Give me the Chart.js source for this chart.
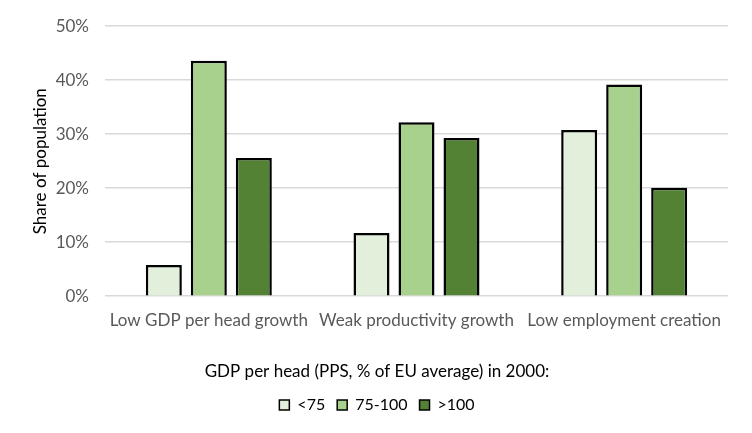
<!DOCTYPE html>
<html>
<head>
<meta charset="utf-8">
<script src="https://cdn.jsdelivr.net/npm/chart.js@4"></script>
<style>
  html, body { margin: 0; padding: 0; background: #fff; }
  #wrap { width: 752px; height: 433px; }
</style>
</head>
<body>
<div id="wrap"><canvas id="myChart"></canvas></div>
<script>
const categories = ['Low GDP per head growth', 'Weak productivity growth', 'Low employment creation'];
const seriesNames = ['<75', '75-100', '>100'];
const below75 = [5.8, 11.7, 30.8];
const from75to100 = [43.6, 32.2, 39.2];
const above100 = [25.6, 29.3, 20.1];
const yTicks = [0, 10, 20, 30, 40, 50];

const colors = ['#E2EFDA', '#A9D18E', '#548235'];
const font = "Lato, 'Open Sans', sans-serif";

const ctx = document.getElementById('myChart').getContext('2d');
new Chart(ctx, {
    type: 'bar',
    data: {
        labels: categories,
        datasets: [below75, from75to100, above100].map((vals, i) => ({
            label: seriesNames[i],
            data: vals,
            backgroundColor: colors[i],
            borderColor: '#000',
            borderWidth: 2.5,
            borderSkipped: 'bottom',
            categoryPercentage: 0.65,
            barPercentage: 0.8
        }))
    },
    options: {
        responsive: true,
        maintainAspectRatio: false,
        animation: false,
        layout: { padding: { left: 26, right: 24, top: 7, bottom: 10 } },
        scales: {
            x: {
                grid: { display: false },
                border: { display: false },
                ticks: {
                    color: '#595959',
                    font: { family: font, size: 17 },
                    padding: 6,
                    maxRotation: 0,
                    minRotation: 0,
                    autoSkip: false
                }
            },
            y: {
                min: 0,
                max: 50,
                afterBuildTicks: axis => { axis.ticks = yTicks.map(v => ({ value: v })); },
                afterFit: axis => { axis.width = 79; },
                grid: { color: '#D9D9D9', lineWidth: 1.5, drawTicks: false },
                border: { display: false },
                ticks: {
                    color: '#595959',
                    font: { family: font, size: 17 },
                    padding: 16,
                    callback: v => v + '%'
                },
                title: {
                    display: true,
                    text: 'Share of population',
                    color: '#000',
                    font: { family: font, size: 17 },
                    padding: { bottom: 2 }
                }
            }
        },
        plugins: {
            legend: {
                position: 'bottom',
                labels: {
                    color: '#000',
                    font: { family: font, size: 16 },
                    boxWidth: 10,
                    boxHeight: 10,
                    padding: 12,
                    generateLabels: chart => chart.data.datasets.map((ds, i) => ({
                        text: ds.label,
                        fillStyle: ds.backgroundColor,
                        strokeStyle: '#000',
                        lineWidth: 1.5,
                        fontColor: '#000',
                        datasetIndex: i
                    }))
                },
                title: {
                    display: true,
                    text: 'GDP per head (PPS, % of EU average) in 2000:',
                    color: '#000',
                    font: { family: font, size: 17 },
                    padding: { top: 26, bottom: 2 }
                }
            },
            tooltip: { enabled: false }
        }
    }
});
</script>
</body>
</html>
